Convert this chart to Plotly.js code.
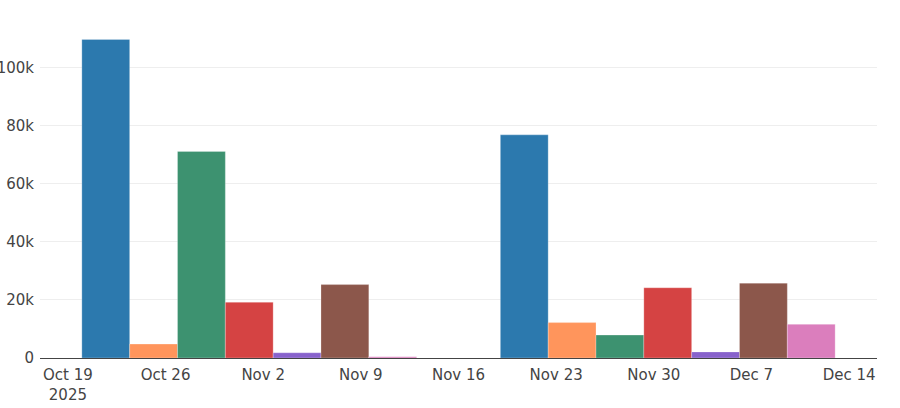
<!DOCTYPE html>
<html>
<head>
<meta charset="utf-8">
<script src="https://cdn.plot.ly/plotly-3.0.1.min.js"></script>
<style>
  html, body { margin: 0; padding: 0; background: #fff; }
  #chart { width: 900px; height: 408px; }
</style>
</head>
<body>
<div id="chart"></div>
<script>
// Miesiące (oś x) i wartości dla każdej serii
const months = ['2025-11-01', '2025-12-01'];
const seriesNames = ['A', 'B', 'C', 'D', 'E', 'F', 'G'];
const seriesColors = ['#2c79ae', '#ff955c', '#3d9270', '#d54343', '#8862cc', '#8c574b', '#db7ebd'];
const seriesA = [109800, 76900];
const seriesB = [4800, 12200];
const seriesC = [71200, 7900];
const seriesD = [19200, 24200];
const seriesE = [1800, 2100];
const seriesF = [25300, 25800];
const seriesG = [400, 11600];
const seriesValues = [seriesA, seriesB, seriesC, seriesD, seriesE, seriesF, seriesG];

const yTickVals = [0, 20000, 40000, 60000, 80000, 100000];
const yTickText = ['0', '20k', '40k', '60k', '80k', '100k'];

const traces = seriesValues.map((vals, i) => ({
  type: 'bar',
  x: months,
  y: vals,
  name: seriesNames[i],
  marker: { color: seriesColors[i], line: { color: 'rgba(255,255,255,0.25)', width: 1 } },
  hovertemplate: '%{y}<extra></extra>'
}));

Plotly.newPlot('chart', traces, {
  width: 900, height: 408,
  paper_bgcolor: '#fff', plot_bgcolor: '#fff',
  margin: { l: 40, r: 23, t: 22, b: 50 },
  font: { family: '"DejaVu Sans", Verdana, sans-serif', size: 15, color: '#444' },
  barmode: 'group',
  showlegend: false,
  xaxis: {
    type: 'date',
    range: ['2025-10-17', '2025-12-16'],
    dtick: 7 * 24 * 3600 * 1000,
    tick0: '2025-10-19',
    tickformat: '%b %-d\n%Y',
    showgrid: false,
    showline: false,
    ticks: '',
    ticklabelstandoff: 6,
    automargin: false
  },
  yaxis: {
    range: [0, 115800],
    tickvals: yTickVals,
    ticktext: yTickText,
    gridcolor: '#eee',
    zeroline: true,
    zerolinecolor: '#444',
    zerolinewidth: 1,
    ticklabelstandoff: 5,
    automargin: false
  }
}, { displayModeBar: false, staticPlot: true });
</script>
</body>
</html>
